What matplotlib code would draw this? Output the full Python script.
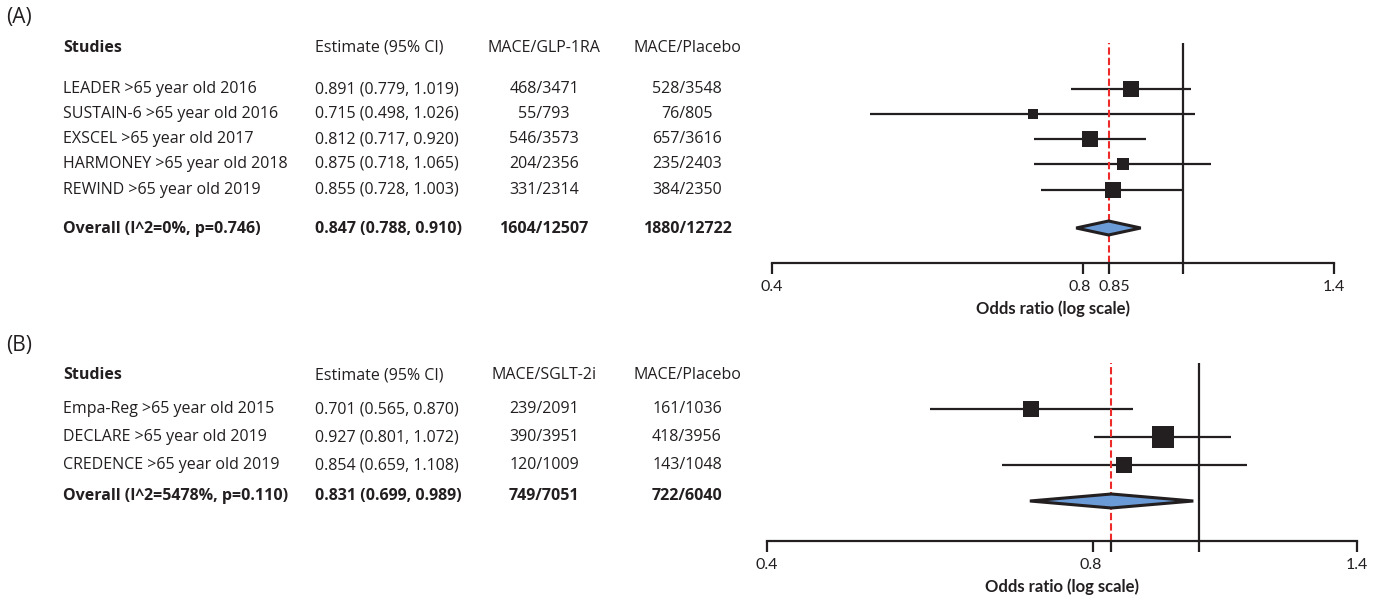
import numpy as np
import matplotlib.pyplot as plt
from matplotlib.patches import Polygon
from matplotlib.transforms import ScaledTranslation

# ---- panel A data (GLP-1RA) ----
studies_a = ["LEADER >65 year old 2016", "SUSTAIN-6 >65 year old 2016",
             "EXSCEL >65 year old 2017", "HARMONEY >65 year old 2018",
             "REWIND >65 year old 2019"]
est_a = [0.891, 0.715, 0.812, 0.875, 0.855]
lo_a = [0.779, 0.498, 0.717, 0.718, 0.728]
hi_a = [1.019, 1.026, 0.920, 1.065, 1.003]
drug_a = ["468/3471", "55/793", "546/3573", "204/2356", "331/2314"]
plac_a = ["528/3548", "76/805", "657/3616", "235/2403", "384/2350"]
overall_a = ["Overall (I^2=0%, p=0.746)", 0.847, 0.788, 0.910, "1604/12507", "1880/12722"]

# ---- panel B data (SGLT-2i) ----
studies_b = ["Empa-Reg >65 year old 2015", "DECLARE >65 year old 2019",
             "CREDENCE >65 year old 2019"]
est_b = [0.701, 0.927, 0.854]
lo_b = [0.565, 0.801, 0.659]
hi_b = [0.870, 1.072, 1.108]
drug_b = ["239/2091", "390/3951", "120/1009"]
plac_b = ["161/1036", "418/3956", "143/1048"]
overall_b = ["Overall (I^2=5478%, p=0.110)", 0.831, 0.699, 0.989, "749/7051", "722/6040"]

W, H = 1377, 616
DARK = "#231f20"
TXT = ["Open Sans", "DejaVu Sans"]
AXF = ["Lato", "DejaVu Sans"]
FS = 11.5

fig = plt.figure(figsize=(W / 100, H / 100), dpi=100)
cv = fig.add_axes([0, 0, 1, 1])
cv.set_xlim(0, W)
cv.set_ylim(H, 0)
cv.axis("off")


def panel(tag, tag_y, head_y, row_y, ov_y, dia_y, box, drug_head,
          studies, est, lo, hi, drug, plac, overall, msizes, ticks, ticklabels):
    cv.text(6, tag_y, tag, fontsize=15, family=TXT, color=DARK, va="center")
    kw = dict(fontsize=FS, family=TXT, color=DARK, va="center")
    cv.text(63, head_y, "Studies", weight="bold", **kw)
    cv.text(315, head_y, "Estimate (95% CI)", **kw)
    cv.text(544, head_y, drug_head, ha="center", **kw)
    cv.text(687, head_y, "MACE/Placebo", ha="center", **kw)
    for i, name in enumerate(studies):
        y = row_y[i]
        cv.text(63, y, name, **kw)
        cv.text(315, y, f"{est[i]:.3f} ({lo[i]:.3f}, {hi[i]:.3f})", **kw)
        cv.text(544, y, drug[i], ha="center", **kw)
        cv.text(687, y, plac[i], ha="center", **kw)
    name, e, l, h, d, p = overall
    cv.text(63, ov_y, name, weight="bold", **kw)
    cv.text(315, ov_y, f"{e:.3f} ({l:.3f}, {h:.3f})", weight="bold", **kw)
    cv.text(544, ov_y, d, ha="center", weight="bold", **kw)
    cv.text(687, ov_y, p, ha="center", weight="bold", **kw)

    left, right, top, bottom = box
    ax = fig.add_axes([left / W, 1 - bottom / H, (right - left) / W, (bottom - top) / H])
    ax.set_xscale("log")
    ax.set_xlim(0.4, 1.4)
    ax.set_ylim(bottom, top)
    ax.patch.set_alpha(0)
    for s in ["top", "left", "right"]:
        ax.spines[s].set_visible(False)
    ax.spines["bottom"].set_linewidth(1.6)
    ax.spines["bottom"].set_color(DARK)
    ax.set_yticks([])
    ax.set_xticks(ticks, ticklabels)
    ax.minorticks_off()
    ax.tick_params(axis="x", length=8, width=1.6, color=DARK, pad=4,
                   labelsize=11.5, labelcolor=DARK)
    labs = ax.get_xticklabels()
    for t in labs:
        t.set_family(AXF)
    # small nudges so 0.8 and 0.85 do not touch
    labs[1].set_transform(labs[1].get_transform() + ScaledTranslation(-2 / 72, 0, fig.dpi_scale_trans))
    labs[2].set_transform(labs[2].get_transform() + ScaledTranslation(4 / 72, 0, fig.dpi_scale_trans))
    ax.set_xlabel("Odds ratio (log scale)", fontsize=12, family=AXF, weight="bold",
                  color=DARK, labelpad=5)

    ax.axvline(1, color=DARK, lw=1.6, zorder=1)
    ax.axvline(e, color="#ee2b2b", lw=1.5, ls=(0, (3.5, 1.5)), zorder=2)
    for i in range(len(studies)):
        y = row_y[i]
        ax.plot([lo[i], hi[i]], [y, y], color=DARK, lw=1.6, solid_capstyle="butt", zorder=1)
        ax.plot(est[i], y, marker="s", ms=msizes[i], color=DARK, mec=DARK, mew=0, zorder=3)
    hh = 7
    ax.add_patch(Polygon([(l, dia_y), (e, dia_y - hh), (h, dia_y), (e, dia_y + hh)],
                         closed=True, facecolor="#6b9bd6", edgecolor=DARK, lw=2.2,
                         joinstyle="miter", zorder=3))


panel("(A)", 18, 48, [89, 114, 139, 164, 190], 229, 228, (772, 1334, 43, 263),
      "MACE/GLP-1RA", studies_a, est_a, lo_a, hi_a, drug_a, plac_a, overall_a,
      [11, 7, 11, 9, 11], [0.4, 0.8, overall_a[1], 1, 1.4], ["0.4", "0.8", "0.85", "", "1.4"])

panel("(B)", 345, 375, [409, 437, 465], 496, 501, (767, 1357, 363, 541),
      "MACE/SGLT-2i", studies_b, est_b, lo_b, hi_b, drug_b, plac_b, overall_b,
      [11, 16, 11], [0.4, 0.8, overall_b[1], 1, 1.4], ["0.4", "0.8", "", "", "1.4"])

fig.savefig("out.png", dpi=100)
